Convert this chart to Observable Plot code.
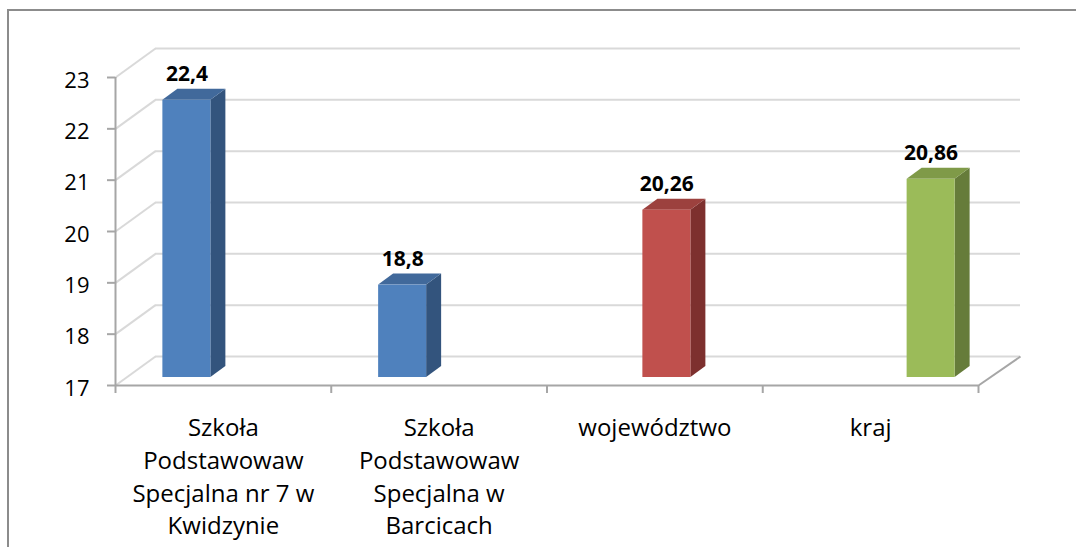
<!DOCTYPE html>
<html><head><meta charset="utf-8">
<script src="https://cdn.jsdelivr.net/npm/d3@7"></script>
<script src="https://cdn.jsdelivr.net/npm/@observablehq/plot@0.6"></script>
<style>
body{margin:0;background:#fff;}
#wrap{position:relative;width:1076px;height:547px;overflow:hidden;background:#fff;}
#border{position:absolute;left:7px;top:9px;width:1200px;height:700px;border-left:2px solid #8c8c8c;border-top:2px solid #8c8c8c;pointer-events:none;}
#wrap svg{position:absolute;left:0;top:0;}
</style></head><body><div id="wrap"><div id="border"></div></div>
<script>
const categories = ["Szkoła\nPodstawowaw\nSpecjalna nr 7 w\nKwidzynie", "Szkoła\nPodstawowaw\nSpecjalna w\nBarcicach", "województwo", "kraj"];
const values = [22.4, 18.8, 20.26, 20.86];
const seriesOf = [0, 0, 1, 2];
const faceColors = ["#4f81bd", "#c0504d", "#9bbb59"];
const topColors = ["#41699b", "#9c413e", "#7f9a48"];
const sideColors = ["#33547d", "#7d302e", "#667c3a"];
const yTicks = [17, 18, 19, 20, 21, 22, 23];

const W = 1076, H = 547, mL = 115, mR = 98, mT = 77, mB = 162;
const yMin = yTicks[0], yMax = yTicks[yTicks.length - 1];
const nCat = categories.length;
const pxX = (W - mL - mR) / nCat;
const pxY = (H - mT - mB) / (yMax - yMin);
const ux = p => p / pxX, uy = p => p / pxY;

// 3D geometry (pixels)
const wallDX = 40, wallDY = 29;
const barW = 48, slotStep = 48.5, barShift = -12, sideDX = 15, sideDY = 11, barLift = -8;

const rows = categories.map((c, i) => {
  const s = seriesOf[i];
  const xl = i + 0.5 + ux((s - 1) * slotStep + barShift);
  return {i, c, v: values[i], s, xl, xr: xl + ux(barW)};
});
const sidePts = rows.flatMap(d => [
  {id: d.i, s: d.s, x: d.xr, y1: yMin, y2: d.v},
  {id: d.i, s: d.s, x: d.xr + ux(sideDX), y1: yMin + uy(sideDY), y2: d.v + uy(sideDY)}
]);
const topPts = rows.flatMap(d => [
  {id: d.i, s: d.s, y: d.v, x1: d.xl, x2: d.xr},
  {id: d.i, s: d.s, y: d.v + uy(sideDY), x1: d.xl + ux(sideDX), x2: d.xr + ux(sideDX)}
]);

const grid = "#d9d9d9", axisCol = "#a6a6a6";

const chart = Plot.plot({
  width: W, height: H,
  marginLeft: mL, marginRight: mR, marginTop: mT, marginBottom: mB,
  style: {fontFamily: "'Open Sans', sans-serif", background: "transparent", color: "#000"},
  x: {domain: [0, nCat], label: null},
  y: {domain: [yMin, yMax], label: null},
  color: {type: "identity"},
  marks: [
    Plot.ruleY(yTicks, {x1: 0, x2: nCat + ux(2), dx: wallDX, dy: -wallDY, stroke: grid, strokeWidth: 2}),
    Plot.link(yTicks, {x1: 0, y1: d => d, x2: ux(wallDX), y2: d => d + uy(wallDY), stroke: grid, strokeWidth: 2}),
    Plot.link([yMin], {x1: nCat, y1: d => d, x2: nCat + ux(wallDX + 2), y2: d => d + uy(wallDY), stroke: axisCol, strokeWidth: 2}),
    Plot.ruleY([yMin], {x1: 0, x2: nCat, stroke: axisCol, strokeWidth: 2}),
    Plot.ruleX([0], {y1: yMin, y2: yMax, stroke: axisCol, strokeWidth: 2}),
    Plot.axisY({ticks: yTicks, tickSize: 8, fill: "none", stroke: axisCol, strokeWidth: 2, label: null}),
    Plot.axisY({ticks: yTicks, tickSize: 8, tickPadding: 18, stroke: "none", fill: "#000", fontSize: 22, dy: 3, label: null, tickFormat: d => String(d)}),
    Plot.axisX({ticks: d3.range(nCat + 1), tickSize: 8, fill: "none", stroke: axisCol, strokeWidth: 2, label: null}),
    Plot.areaY(sidePts, {x: "x", y1: "y1", y2: "y2", z: "id", fill: d => sideColors[d.s], dy: barLift}),
    Plot.areaX(topPts, {y: "y", x1: "x1", x2: "x2", z: "id", fill: d => topColors[d.s], dy: barLift}),
    Plot.rect(rows, {x1: "xl", x2: "xr", y1: yMin, y2: "v", fill: d => faceColors[d.s], dy: barLift}),
    Plot.text(rows, {x: d => (d.xl + d.xr) / 2, y: "v", text: d => String(d.v).replace(".", ","), dy: -34, fontWeight: "bold", fontSize: 21, fill: "#000"}),
    Plot.text(rows, {x: d => d.i + 0.5, y: yMin, text: "c", lineAnchor: "top", lineHeight: 1.37, fontSize: 24, dy: 27, fill: "#000"})
  ]
});
document.getElementById("wrap").appendChild(chart);
</script>
</body></html>
